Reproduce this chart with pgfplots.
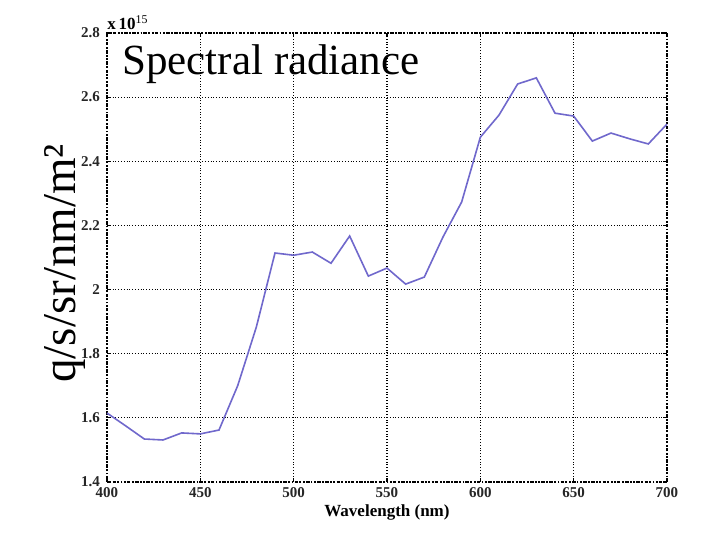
\documentclass[border=0pt]{standalone}
\usepackage{fontspec}
\setmainfont{Liberation Serif}
\usepackage{pgfplots}
\pgfplotsset{compat=1.18}
\definecolor{curve}{RGB}{112,104,204}
\begin{document}
\begin{tikzpicture}
\useasboundingbox[fill=white] (-53.5pt,-28.5pt) rectangle (310.5pt,241pt);
\begin{axis}[
  at={(0,0)}, anchor=south west,
  scale only axis, width=280pt, height=224.5pt,
  xmin=400, xmax=700, ymin=1.4, ymax=2.8,
  xtick={400,450,...,700},
  ytick={1.4,1.6,...,2.8},
  /pgf/number format/assume math mode=true,
  yticklabel style={/pgf/number format/fixed, /pgf/number format/precision=1},
  tick label style={font=\bfseries\fontsize{7.5}{8}\selectfont, text=black!85},
  xticklabel style={yshift=1pt},
  grid=major,
  major grid style={black, densely dotted, line width=0.6pt},
  axis line style={black, densely dotted, line width=0.9pt},
  tick style={black, line width=0.6pt},
  major tick length=2pt,
  tick align=inside,
  xlabel={\bfseries Wavelength (nm)},
  xlabel style={font=\bfseries\fontsize{8.5}{9}\selectfont, yshift=3pt},
  ylabel={q/s/sr/nm/m²},
  ylabel style={font=\fontsize{23.5}{25}\selectfont, at={([xshift=-21pt,yshift=-3pt]rel axis cs:0,0.5)}, anchor=center},
  clip=false,
]
\addplot[curve, line width=0.8pt] coordinates {
(400,1.615) (410,1.575) (420,1.534) (430,1.531) (440,1.553) (450,1.550)
(460,1.562) (470,1.700) (480,1.883) (490,2.114) (500,2.107) (510,2.117)
(520,2.082) (530,2.167) (540,2.042) (550,2.067) (560,2.017) (570,2.039)
(580,2.164) (590,2.273) (600,2.475) (610,2.544) (620,2.641) (630,2.660)
(640,2.550) (650,2.541) (660,2.463) (670,2.488) (680,2.470) (690,2.454)
(700,2.516)
};
\node[anchor=north west, inner sep=0pt, font=\fontsize{21.5}{23}\selectfont] at ([xshift=7.5pt,yshift=-5.5pt]rel axis cs:0,1) {Spectral radiance};
\node[anchor=south west, inner sep=0pt, font=\bfseries\fontsize{8.5}{9}\selectfont] at ([xshift=0pt,yshift=1.5pt]rel axis cs:0,1) {x\,10$^{\mathrm{15}}$};
\end{axis}
\end{tikzpicture}
\end{document}
